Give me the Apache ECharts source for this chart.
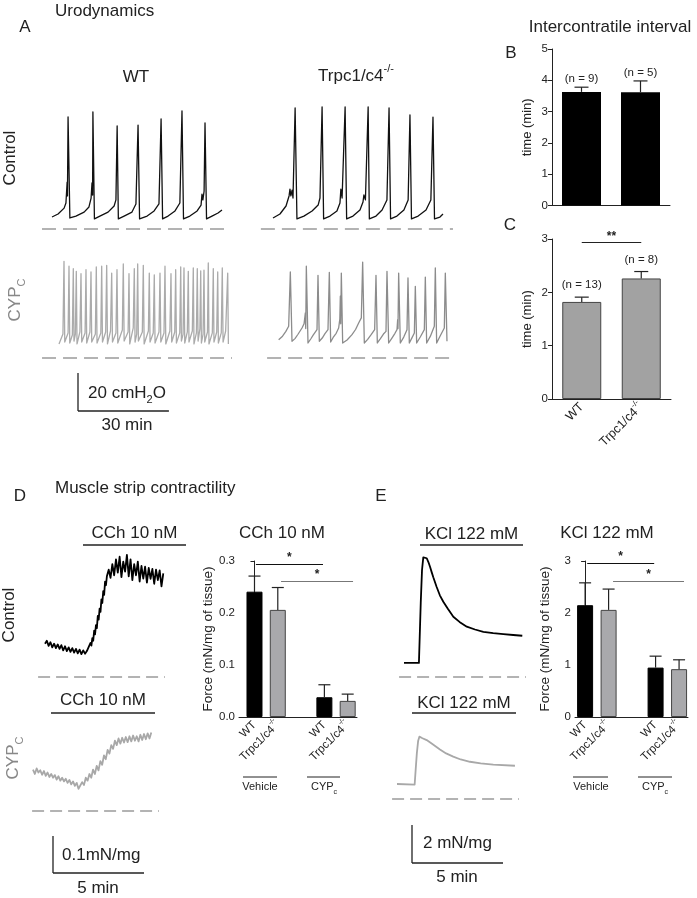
<!DOCTYPE html>
<html><head><meta charset="utf-8">
<script src="https://cdn.jsdelivr.net/npm/echarts@6/dist/echarts.min.js"></script>
<style>html,body{margin:0;padding:0;background:#fff}#c{width:697px;height:898px}</style>
</head><body><div id="c"></div>
<script>
// ---------------- DATA ----------------
// Urodynamic traces: [time (min), pressure (cmH2O)]
const uroWTControl = [[0,6.3],[2.0,7.9],[4.0,11.0],[4.6,13.7],[5.0,24.7],[5.1,17.4],[5.3,59.0],[5.9,5.8],
[7.9,6.8],[10.6,8.9],[12.2,11.6],[12.9,16.3],[13.2,24.2],[13.4,17.9],[13.5,61.6],[14.0,5.3],
[15.8,6.8],[18.5,8.9],[20.5,12.1],[21.1,15.3],[21.5,54.2],[21.9,5.3],
[23.8,6.8],[26.4,8.9],[27.7,13.2],[28.4,54.7],[28.9,5.3],
[31.4,6.8],[33.7,9.5],[35.3,13.2],[36.0,57.9],[36.5,5.3],
[38.3,6.8],[40.6,9.5],[42.2,13.7],[42.9,62.1],[43.4,5.3],
[45.5,6.8],[47.9,9.5],[49.2,12.6],[49.5,18.4],[49.8,15.3],[50.2,20.0],[50.5,55.8],[51.0,5.3],
[52.8,6.8],[54.8,8.4],[56.1,10.0]];
const uroKOControl = [[0,5.8],[2.3,7.9],[4.3,12.1],[5.3,17.4],[5.6,21.0],[5.9,17.4],[6.3,20.5],[6.6,16.3],[7.3,63.7],[7.9,5.3],
[10.2,6.8],[12.9,9.5],[14.9,12.6],[15.5,16.3],[16.2,64.2],[16.7,5.3],
[18.8,6.8],[21.1,9.5],[22.1,13.7],[22.4,21.0],[22.8,16.3],[23.8,64.2],[24.3,5.3],
[26.4,6.8],[28.7,10.0],[29.7,14.2],[30.0,17.9],[30.5,15.3],[31.4,64.2],[31.8,5.3],
[34.0,6.8],[36.0,10.0],[37.6,15.3],[38.3,63.7],[38.8,5.3],
[40.9,6.8],[43.2,10.0],[44.6,15.3],[45.2,60.0],[45.7,5.3],
[47.9,6.8],[50.5,10.0],[52.1,15.3],[52.8,58.9],[53.3,5.3],
[55.1,6.3],[56.1,7.9]];
const uroWTCyp = [[0,7.4],[1.3,12.6],[1.65,50.9],[1.9,8.4],
[3.0,13.2],[3.3,48.3],[3.55,7.9],[4.4,12.1],[4.72,47.0],[4.95,8.9],
[5.4,12.6],[5.71,45.6],[5.95,7.4],[6.9,13.7],[7.26,44.4],[7.5,8.4],
[8.6,13.2],[8.91,46.5],[9.15,7.9],[10.2,13.7],[10.56,45.3],[10.8,8.4],
[12.0,12.6],[12.31,47.9],[12.55,7.9],[13.8,13.2],[14.09,48.3],[14.35,8.4],
[15.4,13.7],[15.74,48.8],[16.0,7.4],[17.0,14.2],[17.39,44.7],[17.65,8.4],
[18.8,13.2],[19.14,46.5],[19.4,7.9],[20.9,14.7],[21.22,49.5],[21.5,8.9],
[22.8,13.7],[23.1,44.4],[23.35,7.4],[24.5,15.8],[24.85,47.0],[25.1,8.4],
[25.65,12.6],[25.97,49.5],[26.2,8.9],[27.5,13.7],[27.82,48.8],[28.1,7.4],
[29.5,14.2],[29.8,44.7],[30.05,8.4],[31.1,13.2],[31.45,43.8],[31.7,7.9],
[33.0,13.7],[33.33,44.7],[33.6,8.4],[34.65,13.2],[34.98,48.3],[35.25,7.4],
[36.6,14.2],[36.96,44.4],[37.2,8.4],[38.2,13.7],[38.51,46.5],[38.75,7.9],
[39.85,13.2],[40.17,47.9],[40.4,8.9],[40.95,12.6],[41.25,47.4],[41.5,7.9],
[42.35,13.7],[42.67,45.6],[42.9,8.4],[44.0,14.2],[44.32,47.4],[44.55,7.4],
[45.35,13.2],[45.64,47.0],[45.9,8.9],[46.5,15.3],[46.77,45.9],[47.0,7.9],
[47.55,12.6],[47.85,46.2],[48.1,8.4],[49.0,13.7],[49.27,50.0],[49.5,7.4],
[50.6,13.2],[50.92,47.0],[51.15,8.4],[52.05,13.7],[52.38,45.3],[52.6,7.9],
[53.55,13.2],[53.89,47.4],[54.15,8.4],[55.0,14.2],[55.68,44.7],[55.9,7.4]];
const uroKOCyp = [[0.22,9.6],[1.5,11.5],[2.6,14.0],[3.52,16.7],[4.07,45.3],[4.62,8.8],[5.6,10.2],[6.6,12.5],[7.92,15.8],[8.6,18.0],[9.02,23.7],[9.15,15.5],[9.35,48.3],[9.9,7.9],
[10.8,10.0],[11.6,12.0],[12.87,14.9],[13.2,43.5],[13.64,8.8],[14.6,10.5],[15.5,12.8],[16.5,14.9],[16.94,45.1],[17.38,8.4],
[18.2,10.8],[19.2,13.0],[20.02,15.8],[20.4,20.5],[20.57,32.5],[20.7,18.0],[20.9,44.7],[21.34,7.9],
[22.8,9.5],[24.42,12.3],[25.6,15.0],[26.62,18.4],[27.5,21.1],[27.94,50.5],[28.49,7.9],
[29.6,9.8],[30.8,12.4],[31.9,14.9],[32.34,43.5],[32.78,7.9],[33.8,10.2],[34.8,12.6],[35.64,14.0],[35.97,45.6],[36.52,7.9],
[37.6,10.5],[38.6,13.0],[39.27,14.9],[39.49,20.2],[39.6,15.5],[39.82,44.7],[40.37,7.9],
[41.5,11.0],[42.57,14.9],[42.9,42.1],[43.34,7.9],[44.2,10.6],[45.0,13.2],[45.32,37.7],[45.76,7.9],
[47.0,11.2],[48.29,14.9],[48.62,42.6],[49.06,7.9],[50.3,11.5],[51.59,16.7],[51.92,47.4],[52.36,7.9],
[53.6,11.8],[54.89,15.8],[55.22,44.7],[55.77,8.8]];

// Muscle strip traces: [time (min), force (mN/mg)]
const cchControl = [[0.0,0.090],[0.1,0.098],[0.2,0.084],[0.3,0.094],[0.4,0.080],[0.5,0.090],[0.6,0.078],[0.7,0.088],[0.8,0.076],[0.9,0.086],
[1.0,0.072],[1.1,0.083],[1.2,0.070],[1.3,0.080],[1.4,0.068],[1.5,0.078],[1.6,0.066],[1.7,0.076],[1.8,0.064],[1.9,0.074],
[2.0,0.062],[2.1,0.072],[2.2,0.063],[2.3,0.070],[2.4,0.075],[2.5,0.092],[2.55,0.085],[2.6,0.105],[2.65,0.098],[2.7,0.125],[2.75,0.115],[2.8,0.140],[2.85,0.132],[2.9,0.165],[2.95,0.155],
[3.0,0.185],[3.05,0.176],[3.1,0.210],[3.15,0.200],[3.2,0.232],[3.25,0.222],[3.3,0.258],[3.35,0.248],[3.4,0.272],[3.5,0.290],[3.6,0.268],[3.7,0.305],[3.8,0.275],[3.9,0.318],
[4.0,0.282],[4.1,0.325],[4.2,0.270],[4.3,0.312],[4.4,0.285],[4.5,0.330],[4.6,0.272],[4.7,0.318],[4.8,0.262],[4.9,0.305],
[5.0,0.275],[5.1,0.312],[5.2,0.258],[5.3,0.300],[5.4,0.266],[5.5,0.298],[5.6,0.255],[5.7,0.295],[5.8,0.265],[5.9,0.292],
[6.0,0.252],[6.1,0.290],[6.2,0.262],[6.3,0.288],[6.4,0.245],[6.5,0.280]];
const cchCyp = [[0.0,0.112],[0.1,0.100],[0.2,0.115],[0.3,0.104],[0.4,0.110],[0.5,0.098],[0.6,0.108],[0.7,0.095],[0.8,0.104],[0.9,0.092],
[1.0,0.100],[1.1,0.090],[1.2,0.097],[1.3,0.085],[1.4,0.094],[1.5,0.082],[1.6,0.090],[1.7,0.080],[1.8,0.087],[1.9,0.076],
[2.0,0.084],[2.1,0.072],[2.2,0.080],[2.3,0.068],[2.4,0.076],[2.5,0.060],[2.6,0.055],[2.7,0.078],[2.8,0.070],[2.9,0.090],
[3.0,0.082],[3.1,0.100],[3.2,0.090],[3.3,0.112],[3.4,0.100],[3.5,0.122],[3.6,0.110],[3.7,0.135],[3.8,0.125],[3.9,0.150],
[4.0,0.140],[4.1,0.165],[4.2,0.155],[4.3,0.178],[4.4,0.168],[4.5,0.190],[4.6,0.178],[4.7,0.196],[4.8,0.182],[4.9,0.198],
[5.0,0.185],[5.1,0.200],[5.2,0.186],[5.3,0.202],[5.4,0.188],[5.5,0.204],[5.6,0.190],[5.7,0.202],[5.8,0.188],[5.9,0.206],
[6.0,0.192],[6.1,0.208],[6.2,0.194],[6.3,0.210],[6.4,0.196],[6.5,0.212]];
const kclControl = [[0,0.74],[0.82,0.74],[0.92,3.9],[0.99,5.63],[1.06,6.3],[1.15,6.37],[1.25,6.25],[1.34,6.05],[1.43,5.8],[1.52,5.52],[1.61,5.25],[1.79,4.75],[1.97,4.3],[2.16,3.96],[2.4,3.6],[2.71,3.17],[3.05,2.9],[3.45,2.65],[3.9,2.5],[4.36,2.38],[4.9,2.31],[5.46,2.26],[6.0,2.21],[6.5,2.17]];
const kclCyp = [[0,0.79],[0.97,0.76],[1.03,1.6],[1.09,2.4],[1.16,3.05],[1.23,3.28],[1.4,3.2],[1.63,3.1],[2.0,2.85],[2.36,2.61],[2.7,2.4],[3.09,2.23],[3.5,2.08],[4.01,1.96],[4.6,1.88],[5.29,1.81],[6.48,1.75]];

// Bar charts
const intervalGroups = ['WT', 'Trpc1/c4-/-'];
const intervalCtrlMean = [3.63, 3.62];
const intervalCtrlUpper = [3.78, 3.98];
const intervalCtrlN = [9, 5];
const intervalCypMean = [1.82, 2.26];
const intervalCypUpper = [1.91, 2.39];
const intervalCypN = [13, 8];
const stripPos = [0, 1, 3, 4];
const stripLabels = ['WT', 'Trpc1/c4-/-', 'WT', 'Trpc1/c4-/-'];
const cchMean = [0.241, 0.206, 0.038, 0.031];
const cchUpper = [0.271, 0.249, 0.062, 0.044];
const kclMean = [2.15, 2.06, 0.95, 0.92];
const kclUpper = [2.58, 2.46, 1.17, 1.10];
const ticksB = [0, 1, 2, 3, 4, 5];
const ticksC = [0, 1, 2, 3];
const ticksD = [0.0, 0.1, 0.2, 0.3];
const ticksE = [0, 1, 2, 3];
// significance bars: [from, to, level]
const sigC = [[0, 1, 2.94, '**']];
const sigD = [[0.06, 2.94, 0.294, '*'], [1.14, 4.23, 0.262, '*']];
const sigE = [[0.09, 2.94, 2.96, '*'], [1.19, 4.21, 2.62, '*']];

// ---------------- BUILD ----------------
const FONT = "'Liberation Sans', Arial, Helvetica, sans-serif";
const grids = [], xAxes = [], yAxes = [], series = [], gfx = [];

function traceGrid(x0, y0, sx, sy, xr, yr) {
  const i = grids.length;
  grids.push({left: x0 + xr[0] * sx, top: y0 - yr[1] * sy, width: (xr[1] - xr[0]) * sx, height: (yr[1] - yr[0]) * sy});
  xAxes.push({type: 'value', gridIndex: i, min: xr[0], max: xr[1], show: false});
  yAxes.push({type: 'value', gridIndex: i, min: yr[0], max: yr[1], show: false});
  return i;
}
function addTrace(gi, data, color, width) {
  series.push({type: 'line', xAxisIndex: gi, yAxisIndex: gi, data: data, symbol: 'none', showSymbol: false,
    lineStyle: {color: color, width: width, join: 'round'}, silent: true, animation: false, z: 3, clip: false});
}
function addBaseline(gi, t0, t1, dash) {
  series.push({type: 'line', xAxisIndex: gi, yAxisIndex: gi, data: [[t0, 0], [t1, 0]], symbol: 'none',
    lineStyle: {color: '#9a9a9a', width: 1.4, type: dash}, silent: true, animation: false, z: 2, clip: false});
}
function txt(x, y, text, o) {
  o = o || {};
  const st = {text: text, fontSize: o.size || 17, fontFamily: FONT, fill: o.color || '#222',
    align: o.align || 'center', verticalAlign: o.va || 'middle', textAlign: o.align || 'center', textVerticalAlign: o.va || 'middle'};
  if (o.rich) st.rich = o.rich;
  gfx.push({type: 'text', x: x, y: y, rotation: o.rot || 0, silent: true, style: st, z: 10});
}
function ln(x1, y1, x2, y2, o) {
  o = o || {};
  gfx.push({type: 'line', silent: true, shape: {x1: x1, y1: y1, x2: x2, y2: y2}, style: {stroke: o.color || '#222', lineWidth: o.w || 1.3}, z: 10});
}
function labelFmt(v) {
  if (typeof v !== 'string') return '';
  if (v.indexOf('-/-') >= 0) return '{a|' + v.replace('-/-', '') + '}{s|-/-}';
  return '{a|' + v + '}';
}
function labelRich(size) {
  return {a: {fontSize: size, fontFamily: FONT, color: '#222', lineHeight: size + 6},
          s: {fontSize: Math.round(size * 0.62), fontFamily: FONT, color: '#222', verticalAlign: 'top', lineHeight: Math.round(size * 0.62)}};
}
function errRender(cap, gap) {
  return function (params, api) {
    const x = api.value(0), m = api.value(1), u = api.value(2), n = api.value(3);
    const a = api.coord([x, m]), b = api.coord([x, u]);
    const ch = [
      {type: 'line', shape: {x1: a[0], y1: a[1], x2: b[0], y2: b[1]}, style: {stroke: '#222', lineWidth: 1.2}},
      {type: 'line', shape: {x1: b[0] - cap / 2, y1: b[1], x2: b[0] + cap / 2, y2: b[1]}, style: {stroke: '#222', lineWidth: 1.2}}
    ];
    if (n) ch.push({type: 'text', x: b[0], y: b[1] - gap, style: {text: '(n = ' + n + ')', fontSize: 11.5, fontFamily: FONT, fill: '#222',
      align: 'center', verticalAlign: 'bottom', textAlign: 'center', textVerticalAlign: 'bottom'}});
    return {type: 'group', children: ch};
  };
}
function yAxisFor(gi, ticks, name, gap, fmt) {
  const st = {lineStyle: {color: '#222', width: 1}};
  return {type: 'value', gridIndex: gi, min: ticks[0], max: ticks[ticks.length - 1], interval: ticks[1] - ticks[0],
    axisLine: Object.assign({show: true}, st), axisTick: Object.assign({show: true, length: 4}, st),
    axisLabel: {fontSize: 11.5, color: '#222', margin: 4, fontFamily: FONT, formatter: fmt || null},
    splitLine: {show: false}, name: name, nameLocation: 'middle', nameGap: gap, nameRotate: 90,
    nameTextStyle: {fontSize: name && name.indexOf('Force') === 0 ? 13.5 : 13, color: '#222', fontFamily: FONT}};
}
function sigLines(list, colors) {
  return {symbol: ['none', 'none'], silent: true, animation: false,
    label: {show: true, position: 'insideMiddleTop', distance: 0, fontSize: 12, color: '#222', fontFamily: FONT, fontWeight: 'bold'},
    data: list.map(function (s, i) {
      return [{coord: [s[0], s[2]], lineStyle: {color: colors[i], width: 1.2, type: 'solid'}, label: {formatter: s[3]}},
              {coord: [s[1], s[2]]}];
    })};
}

// ---- Panel A traces ----
const SXA = 3.03, SYA = 1.9;
let g;
g = traceGrid(52, 229, SXA, SYA, [-4, 60], [-3, 68]);
addBaseline(g, -3.3, 58.4, [14, 7]); addTrace(g, uroWTControl, '#111', 1.3);
g = traceGrid(273, 229, SXA, SYA, [-5, 61], [-3, 68]);
addBaseline(g, -4.0, 59.4, [14, 7]); addTrace(g, uroKOControl, '#111', 1.3);
g = traceGrid(59, 358, SXA, SYA, [-6, 60], [-3, 56]);
addBaseline(g, -5.6, 57.1, [14, 7]); addTrace(g, uroWTCyp, '#ababab', 1.3);
g = traceGrid(278, 358, SXA, SYA, [-5, 61], [-3, 56]);
addBaseline(g, -3.6, 58.4, [14, 7]); addTrace(g, uroKOCyp, '#8c8c8c', 1.3);

// ---- Panel D/E traces ----
const SXS = 18.2, SYD = 370, SYE = 19;
g = traceGrid(45, 677, SXS, SYD, [-0.5, 7], [-0.02, 0.36]);
addBaseline(g, -0.38, 6.59, [12, 6]); addTrace(g, cchControl, '#000', 1.8);
g = traceGrid(33, 811, SXS, SYD, [-0.2, 7.2], [-0.02, 0.25]);
addBaseline(g, -0.05, 6.92, [12, 6]); addTrace(g, cchCyp, '#a8a8a8', 1.8);
g = traceGrid(404, 677, SXS, SYE, [-0.5, 7], [-0.5, 7]);
addBaseline(g, -0.27, 6.7, [12, 6]); addTrace(g, kclControl, '#000', 1.8);
g = traceGrid(397, 799, SXS, SYE, [-0.5, 7], [-0.5, 4]);
addBaseline(g, -0.27, 6.7, [12, 6]); addTrace(g, kclCyp, '#a8a8a8', 1.8);

// ---- Panel B ----
const axSt = {lineStyle: {color: '#222', width: 1}};
g = grids.length;
grids.push({left: 552, top: 49, width: 118, height: 156.5});
xAxes.push({type: 'category', gridIndex: g, data: intervalGroups, axisLine: Object.assign({show: true}, axSt), axisTick: {show: false}, axisLabel: {show: false}});
yAxes.push(yAxisFor(g, ticksB, 'time (min)', 18));
series.push({type: 'bar', xAxisIndex: g, yAxisIndex: g, data: intervalCtrlMean, barWidth: 39, itemStyle: {color: '#000'}, animation: false, silent: true});
series.push({type: 'custom', xAxisIndex: g, yAxisIndex: g, renderItem: errRender(14, 2),
  data: intervalCtrlMean.map(function (m, i) { return [i, m, intervalCtrlUpper[i], intervalCtrlN[i]]; }), z: 5, animation: false, silent: true});

// ---- Panel C ----
g = grids.length;
grids.push({left: 552, top: 239, width: 119, height: 160});
xAxes.push({type: 'category', gridIndex: g, data: intervalGroups, axisLine: Object.assign({show: true}, axSt), axisTick: {show: false},
  axisLabel: {show: true, rotate: 45, margin: 6, interval: 0, formatter: labelFmt, rich: labelRich(12.5)}});
yAxes.push(yAxisFor(g, ticksC, 'time (min)', 18));
series.push({type: 'bar', xAxisIndex: g, yAxisIndex: g, data: intervalCypMean, barWidth: 39,
  itemStyle: {color: '#a2a2a2', borderColor: '#444', borderWidth: 1}, animation: false, silent: true,
  markLine: sigLines(sigC, ['#222'])});
series.push({type: 'custom', xAxisIndex: g, yAxisIndex: g, renderItem: errRender(14, 6),
  data: intervalCypMean.map(function (m, i) { return [i, m, intervalCypUpper[i], intervalCypN[i]]; }), z: 5, animation: false, silent: true});

// ---- Panel D / E bar charts ----
function stripChart(left, width, xr, ticks, mean, upper, sig, fmt) {
  const gi = grids.length;
  grids.push({left: left, top: 561, width: width, height: 156});
  xAxes.push({type: 'value', gridIndex: gi, min: xr[0], max: xr[1], axisLine: Object.assign({show: true, onZero: false}, axSt),
    axisTick: {show: false}, splitLine: {show: false},
    axisLabel: {show: true, customValues: stripPos, rotate: 45, margin: 6, hideOverlap: false,
      formatter: function (v) { const k = stripPos.indexOf(Math.round(v)); return k >= 0 ? labelFmt(stripLabels[k]) : ''; },
      rich: labelRich(11.5)}});
  yAxes.push(yAxisFor(gi, ticks, 'Force (mN/mg of tissue)', 23, fmt));
  series.push({type: 'bar', xAxisIndex: gi, yAxisIndex: gi, barWidth: 16, animation: false, silent: true,
    data: stripPos.map(function (p, i) {
      return {value: [p, mean[i]], itemStyle: i % 2 ? {color: '#a9a9ac', borderColor: '#444', borderWidth: 1} : {color: '#000', borderColor: '#000', borderWidth: 1}};
    }),
    markLine: sigLines(sig, ['#111', '#777'])});
  series.push({type: 'custom', xAxisIndex: gi, yAxisIndex: gi, renderItem: errRender(12, 0),
    data: stripPos.map(function (p, i) { return [p, mean[i], upper[i], 0]; }), z: 5, animation: false, silent: true});
}
stripChart(239, 118, [-0.665, 4.4], ticksD, cchMean, cchUpper, sigD, function (v) { return v.toFixed(1); });
stripChart(575, 113, [-0.43, 4.38], ticksE, kclMean, kclUpper, sigE, null);

// ---------------- ANNOTATIONS ----------------
const supRich = function (a, s) { return {a: {fontSize: a, fontFamily: FONT, lineHeight: a + 9}, s: {fontSize: s, fontFamily: FONT, verticalAlign: 'top', lineHeight: s}}; };
const subRich = function (a, s, col) { return {a: {fontSize: a, fontFamily: FONT, lineHeight: a + 7, fill: col}, s: {fontSize: s, fontFamily: FONT, verticalAlign: 'bottom', lineHeight: s, fill: col}}; };

// Panel A
txt(55, 11, 'Urodynamics', {align: 'left', size: 17});
txt(25, 27, 'A', {size: 17});
txt(136, 77, 'WT', {size: 17});
txt(356, 76, '{a|Trpc1/c4}{s|-/-}', {size: 17, rich: supRich(17, 11)});
txt(10, 158, 'Control', {rot: Math.PI / 2, size: 17});
txt(15, 300, '{a|CYP}{s|C}', {rot: Math.PI / 2, size: 17, color: '#888', rich: subRich(17, 11, '#888')});
// scale bar A (20 cmH2O, 30 min)
ln(78, 411 - 20 * SYA, 78, 411, {w: 1.3}); ln(78, 411, 78 + 30 * SXA, 411, {w: 1.3});
txt(88, 393, '{a|20 cmH}{s|2}{a|O}', {align: 'left', size: 17, rich: subRich(17, 11, '#222')});
txt(127, 425, '30 min', {size: 17});

// Panel B/C
txt(610, 27, 'Intercontratile interval', {size: 17});
txt(511, 53, 'B', {size: 17});
txt(510, 225, 'C', {size: 17});

// Panel D
txt(20, 496, 'D', {size: 17});
txt(55, 488, 'Muscle strip contractility', {align: 'left', size: 17});
txt(9, 615, 'Control', {rot: Math.PI / 2, size: 17});
txt(13, 758, '{a|CYP}{s|C}', {rot: Math.PI / 2, size: 17, color: '#888', rich: subRich(17, 11, '#888')});
txt(134.5, 533, 'CCh 10 nM', {size: 17}); ln(83, 545, 186, 545, {w: 1.5});
txt(103, 700, 'CCh 10 nM', {size: 17}); ln(51, 713, 155, 713, {w: 1.5});
txt(282, 533, 'CCh 10 nM', {size: 17});
ln(53, 873 - 0.1 * SYD, 53, 873); ln(53, 873, 53 + 5 * SXS, 873);
txt(62, 855, '0.1mN/mg', {align: 'left', size: 17});
txt(98, 888, '5 min', {size: 17});
ln(243, 777, 277, 777, {w: 1}); txt(260, 787, 'Vehicle', {size: 11});
ln(307, 777, 340, 777, {w: 1}); txt(324, 787, '{a|CYP}{s|c}', {size: 11, rich: subRich(11, 7, '#222')});

// Panel E
txt(381, 496, 'E', {size: 17});
txt(471.5, 534, 'KCl 122 mM', {size: 17}); ln(420, 545, 523, 545, {w: 1.5});
txt(464, 703, 'KCl 122 mM', {size: 17}); ln(412, 713, 516, 713, {w: 1.5});
txt(607, 533, 'KCl 122 mM', {size: 17});
ln(412, 863 - 2 * SYE, 412, 863); ln(412, 863, 412 + 5 * SXS, 863);
txt(423, 843, '2 mN/mg', {align: 'left', size: 17});
txt(457, 877, '5 min', {size: 17});
ln(573, 777, 608, 777, {w: 1}); txt(591, 787, 'Vehicle', {size: 11});
ln(638, 777, 672, 777, {w: 1}); txt(655, 787, '{a|CYP}{s|c}', {size: 11, rich: subRich(11, 7, '#222')});

const chart = echarts.init(document.getElementById('c'), null, {renderer: 'canvas'});
chart.setOption({
  animation: false,
  backgroundColor: '#fff',
  textStyle: {fontFamily: FONT},
  grid: grids, xAxis: xAxes, yAxis: yAxes, series: series,
  graphic: {elements: gfx}
});
</script></body></html>
